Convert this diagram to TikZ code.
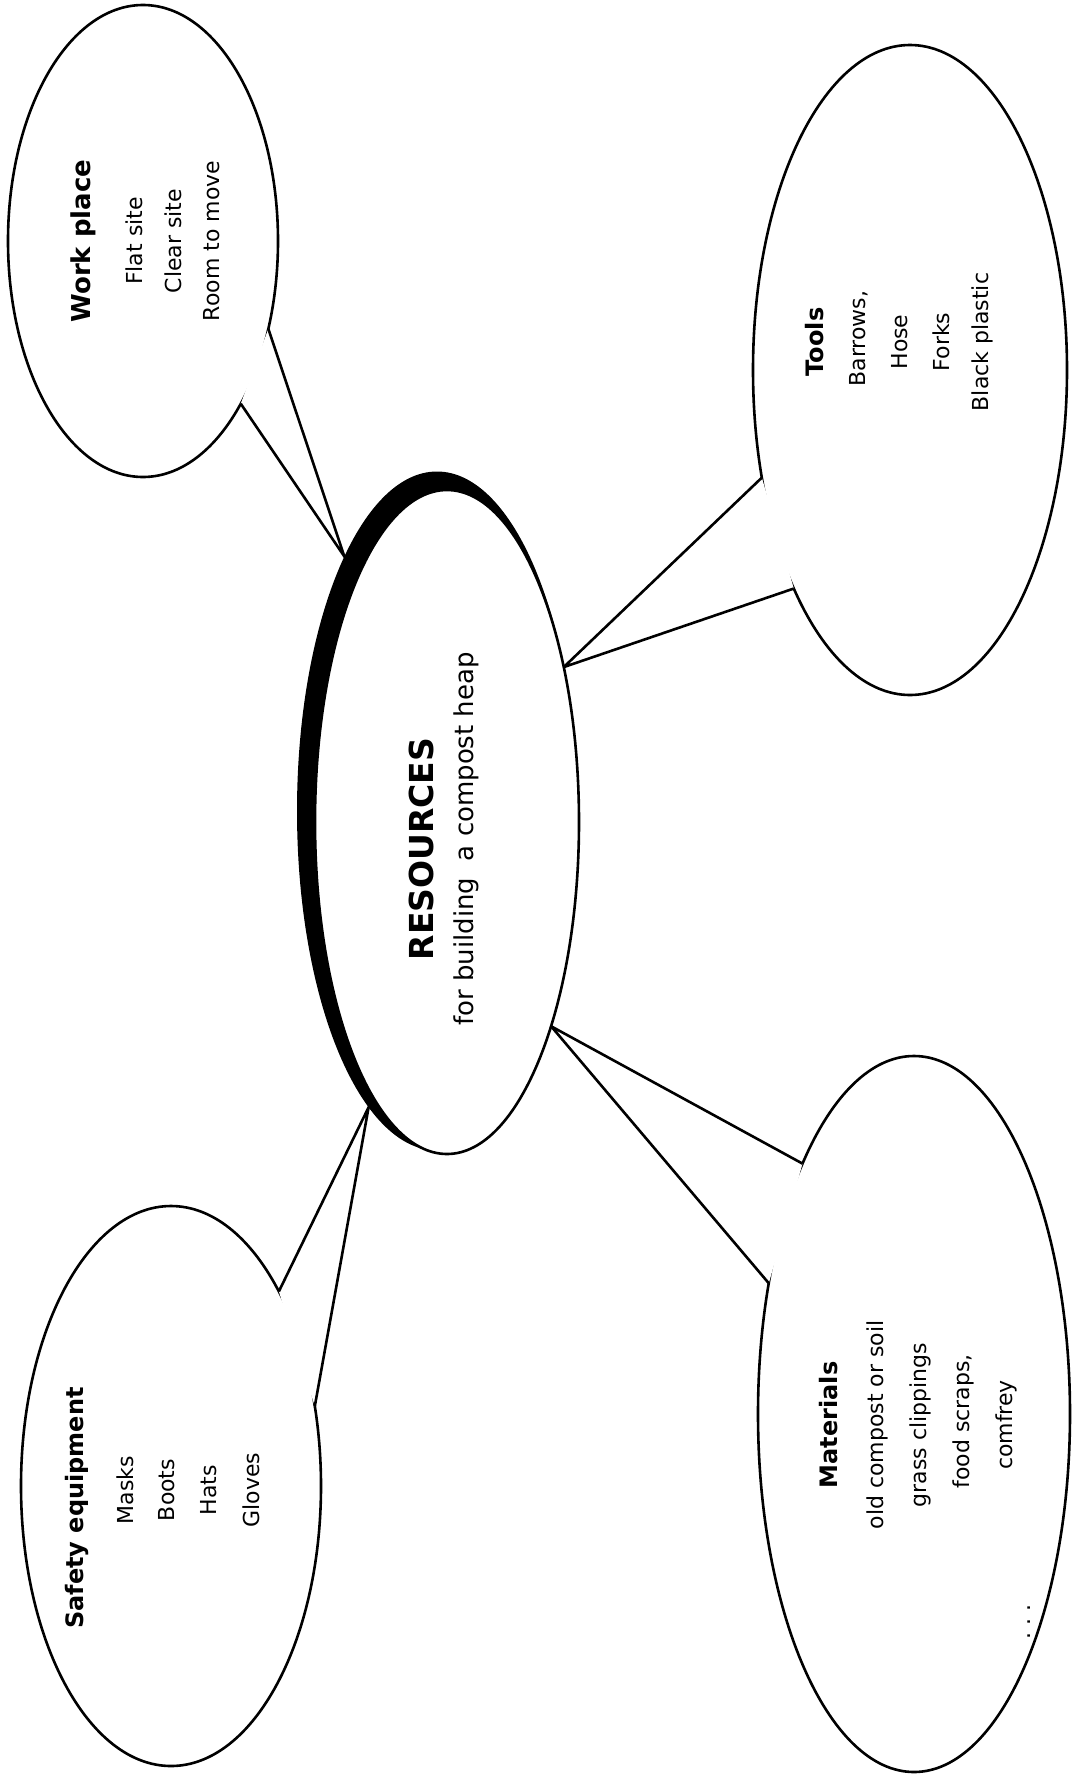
\documentclass[tikz,border=0pt]{standalone}
\usepackage{fontspec}
\setmainfont{DejaVu Sans}
\usetikzlibrary{shapes.geometric}
\pgfdeclarelayer{bg}
\pgfsetlayers{bg,main}
\begin{document}
\begin{tikzpicture}[x=1pt,y=-1pt,
  bubble/.style={ellipse, draw, fill=white, line width=2.6pt, inner sep=0pt, outer sep=0pt},
  tail/.style={line width=2.6pt, line join=miter},
  head/.style={rotate=90, inner sep=0pt, font=\fontsize{24}{28}\selectfont\bfseries},
  item/.style={rotate=90, inner sep=0pt, font=\fontsize{22}{26}\selectfont},
]
\useasboundingbox (0,0) rectangle (1074,1780);

% central ellipse with its heavy left-hand shadow
\node[ellipse, fill=black, minimum width=280pt, minimum height=679pt,
      inner sep=0pt, outer sep=0pt] (shadow) at (437,811) {};
\node[ellipse, draw, fill=white, line width=2.6pt, minimum width=264pt,
      minimum height=664pt, inner sep=0pt, outer sep=0pt] (res) at (447,822) {};
\node[rotate=90, inner sep=0pt, font=\fontsize{33}{38}\selectfont\bfseries] (restitle) at (421,849) {RESOURCES};
\node[item, font=\fontsize{26}{30}\selectfont] (ressub) at (466,839) {for building\ \ a compost heap};

\begin{pgfonlayer}{bg}
\fill[white] (0,0) rectangle (1074,1780);

% speech bubbles, each with a wedge pointing at the centre
\node[bubble, minimum width=270pt, minimum height=472pt] (wp) at (143,241) {};
\coordinate (wptip) at (shadow.110.5);
\fill[white] (wp.-59.4) -- (wptip) -- (wp.-35.5) -- cycle;
\draw[tail] (wp.-59.4) -- (wptip) -- (wp.-35.5);

\node[bubble, minimum width=314pt, minimum height=650pt] (tools) at (910,370) {};
\coordinate (toolstip) at (res.53.4);
\fill[white] (tools.216.7) -- (toolstip) -- (tools.242.9) -- cycle;
\draw[tail] (tools.216.7) -- (toolstip) -- (tools.242.9);

\node[bubble, minimum width=312pt, minimum height=716pt] (mat) at (914,1414) {};
\coordinate (mattip) at (res.-63);
\fill[white] (mat.114.5) -- (mattip) -- (mat.138.3) -- cycle;
\draw[tail] (mat.114.5) -- (mattip) -- (mat.138.3);

\node[bubble, minimum width=300pt, minimum height=560pt] (saf) at (171,1486) {};
\coordinate (saftip) at (shadow.257.2);
\fill[white] (saf.61.1) -- (saftip) -- (saf.29.3) -- cycle;
\draw[tail] (saf.61.1) -- (saftip) -- (saf.29.3);
\end{pgfonlayer}

% bubble texts
\node[head, font=\fontsize{26}{30}\selectfont\bfseries] (wph) at (83,241) {Work place};
\foreach \t [count=\i] in {Flat site, Clear site, Room to move}
  \node[item] (wp\i) at ({95+39*\i},241) {\t};

\node[head] (toolsh) at (815,342) {Tools};
\foreach \t [count=\i] in {Barrows\rlap{,}, Hose, Forks, Black plastic}
  \node[item] (tools\i) at ({818+41*\i},342) {\t};

\node[head] (math) at (829,1425) {Materials};
\foreach \t [count=\i] in {old compost or soil, grass clippings, food scraps\rlap{,}, comfrey}
  \node[item] (mat\i) at ({834+43*\i},1425) {\t};
\node[item, anchor=base] (matmore) at (1030,1622) {.\,\,.\,\,.};

\node[head] (safh) at (77,1508) {Safety equipment};
\foreach \t [count=\i] in {Masks, Boots, Hats, Gloves}
  \node[item] (saf\i) at ({83+42*\i},1490) {\t};
\end{tikzpicture}
\end{document}
